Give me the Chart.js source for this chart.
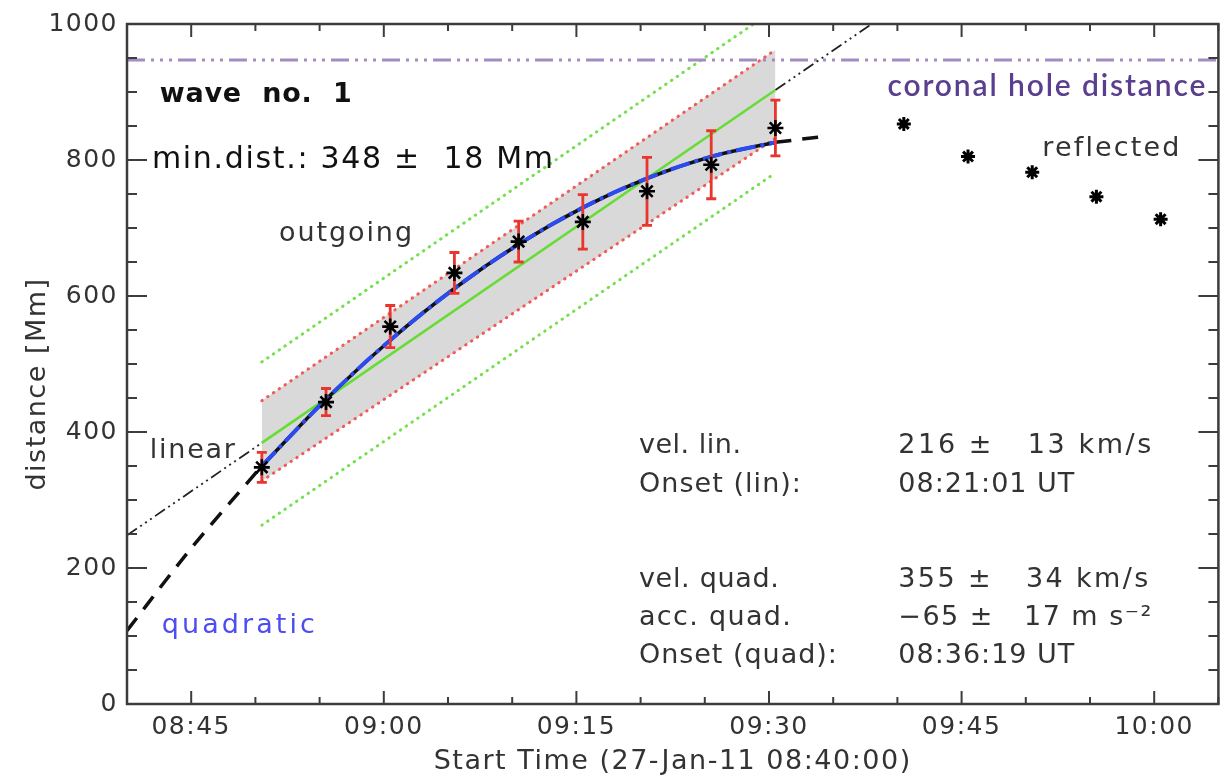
<!DOCTYPE html>
<html>
<head>
<meta charset="utf-8">
<script src="https://cdn.jsdelivr.net/npm/chart.js@4.4.1/dist/chart.umd.min.js"></script>
<style>
  html, body { margin: 0; padding: 0; background: #fff; }
  #chart { display: block; }
</style>
</head>
<body>
<canvas id="chart" width="1229" height="779"></canvas>
<script>
// time axis is in minutes after 08:40:00
const outTimes = [10.5, 15.5, 20.5, 25.5, 30.5, 35.5, 40.5, 45.5, 50.5];
const outDist = [348, 444, 555, 634, 680, 709, 754, 793, 847];
const outErr = [22, 20, 31, 30, 30, 40, 50, 50, 41];

const reflTimes = [60.5, 65.5, 70.5, 75.5, 80.5];
const reflDist = [853, 805, 782, 746, 713];

// linear fit and its extension
const linFitTimes = [10.5, 50.5];
const linFitDist = [384, 903];
const linExtLeftTimes = [0, 10.5];
const linExtLeftDist = [248, 384];
const linExtRightTimes = [50.5, 58];
const linExtRightDist = [903, 1000];

// confidence band (red dotted) and outer band (green dotted)
const bandTimes = [10.5, 50.5];
const bandUpper = [446, 962];
const bandLower = [328, 832];
const outerUpperTimes = [10.5, 48.8];
const outerUpper = [503, 1000];
const outerLowerTimes = [10.5, 50.5];
const outerLower = [263, 781];

// quadratic fit, sampled from the curve
const quadTimes = [0, 5, 10.5, 15.5, 20.5, 25.5, 30.5, 35.5, 40.5, 45.5, 50.5, 54];
const quadDist = [108, 229, 350, 448, 535, 611, 676, 730, 773, 805, 826, 834];

const coronalHole = 947;
const xTicks = { min: 0, max: 85, step: 5 };
const yTicks = { min: 0, max: 1000, step: 50 };

const ink = '#333333';
const axisColor = '#3c3c3c';
const FONT = 'DejaVu Sans';

function pts(ts, vs) {
    return ts.map((t, i) => ({ x: t, y: vs[i] }));
}

function clock(m) {
    const t = 8 * 60 + 40 + m;
    const h = Math.floor(t / 60);
    const mm = Math.round(t % 60);
    return String(h).padStart(2, '0') + ':' + String(mm).padStart(2, '0');
}

const quadLeft = pts(quadTimes, quadDist).filter(p => p.x <= outTimes[0]);
const quadMid = pts(quadTimes, quadDist).filter(p => p.x >= outTimes[0] && p.x <= outTimes[outTimes.length - 1]);
const quadRight = pts(quadTimes, quadDist).filter(p => p.x >= outTimes[outTimes.length - 1]);

// error bars as broken line segments with caps
const errData = [];
outTimes.forEach((t, i) => {
    errData.push({ x: t, y: outDist[i] - outErr[i] });
    errData.push({ x: t, y: outDist[i] + outErr[i] });
    errData.push({ x: t, y: null });
});

const line = (data, color, width, dash, extra) => Object.assign({
    data: data,
    borderColor: color,
    backgroundColor: color,
    borderWidth: width,
    borderDash: dash || [],
    pointRadius: 0,
    fill: false,
    tension: 0
}, extra || {});

// drawn top first
const datasets = [
    {
        data: pts(outTimes, outDist),
        showLine: false,
        pointStyle: 'star',
        pointRadius: 8,
        pointBorderWidth: 2.6,
        pointBorderColor: '#000',
        pointBackgroundColor: '#000'
    },
    {
        data: pts(reflTimes, reflDist),
        showLine: false,
        pointStyle: 'star',
        pointRadius: 7,
        pointBorderWidth: 3,
        pointBorderColor: '#000',
        pointBackgroundColor: '#000'
    },
    line(errData, '#e8352d', 2.8, [], {
        spanGaps: false,
        pointStyle: 'line',
        pointRadius: 5,
        pointBorderWidth: 2.8,
        pointBorderColor: '#e8352d'
    }),
    line(quadMid, '#2b4bef', 4, [20, 5, 4, 5], { cubicInterpolationMode: 'monotone' }),
    line(quadMid, '#111', 3.5, [], { cubicInterpolationMode: 'monotone' }),
    line(quadLeft, '#111', 3.5, [16, 11], { cubicInterpolationMode: 'monotone' }),
    line(quadRight, '#111', 3.5, [16, 11], { cubicInterpolationMode: 'monotone' }),
    line(pts(linFitTimes, linFitDist), '#66dd33', 2.5),
    line(pts(linExtLeftTimes, linExtLeftDist), '#222', 1.8, [12, 4, 2, 4, 2, 4, 2, 4]),
    line(pts(linExtRightTimes, linExtRightDist), '#222', 1.8, [12, 4, 2, 4, 2, 4, 2, 4]),
    line([{ x: xTicks.min, y: coronalHole }, { x: xTicks.max, y: coronalHole }], '#a48cc0', 3, [18, 6, 3, 6, 3, 6, 3, 6]),
    line(pts(outerUpperTimes, outerUpper), '#74e04e', 3, [0.5, 6.5], { borderCapStyle: 'round' }),
    line(pts(outerLowerTimes, outerLower), '#74e04e', 3, [0.5, 6.5], { borderCapStyle: 'round' }),
    line(pts(bandTimes, bandUpper), '#f25a55', 3, [0.5, 6.5], { borderCapStyle: 'round', fill: '+1', backgroundColor: '#d9d9d9' }),
    line(pts(bandTimes, bandLower), '#f25a55', 3, [0.5, 6.5], { borderCapStyle: 'round' })
];

// text inside the plot, placed in data coordinates; w = width to fit
const notes = [
    { text: 'wave  no.  1', t: 2.55, d: 885, size: 27, weight: 'bold', color: '#111', w: 192 },
    { text: 'min.dist.: 348 ±  18 Mm', t: 1.94, d: 788, size: 30, color: '#111', w: 401 },
    { text: 'outgoing', t: 11.84, d: 681, size: 27, color: ink, w: 133 },
    { text: 'coronal hole distance', t: 59.22, d: 894, size: 30, weight: '600', family: 'Lato', color: '#5a3f8e', w: 318 },
    { text: 'reflected', t: 71.29, d: 806, size: 27, color: ink, w: 137 },
    { text: 'linear', t: 1.78, d: 362, size: 27, color: ink, w: 85 },
    { text: 'quadratic', t: 2.71, d: 104, size: 27, color: '#4d4df2', w: 153 },
    { text: 'vel. lin.', t: 39.87, d: 369, size: 27, color: ink, w: 102 },
    { text: 'Onset (lin):', t: 39.87, d: 312, size: 27, color: ink, w: 162 },
    { text: 'vel. quad.', t: 39.87, d: 172, size: 27, color: ink, w: 140 },
    { text: 'acc. quad.', t: 39.87, d: 116, size: 27, color: ink, w: 152 },
    { text: 'Onset (quad):', t: 39.87, d: 60, size: 27, color: ink, w: 198 },
    { text: '216 ±   13 km/s', t: 60.07, d: 369, size: 27, color: ink, w: 253 },
    { text: '08:21:01 UT', t: 60.07, d: 312, size: 27, color: ink, w: 176 },
    { text: '355 ±   34 km/s', t: 60.07, d: 172, size: 27, color: ink, w: 250 },
    { text: '\u221265 ±   17 m s\u207B\u00B2', t: 60.07, d: 116, size: 27, color: ink, w: 253 },
    { text: '08:36:19 UT', t: 60.07, d: 60, size: 27, color: ink, w: 176 }
];

function fitText(ctx, text, x, y, w) {
    ctx.letterSpacing = '0px';
    const raw = ctx.measureText(text).width;
    let sp = (w - raw) / Math.max(1, text.length - 1);
    sp = Math.max(-2, Math.min(6, sp));
    ctx.letterSpacing = sp.toFixed(2) + 'px';
    ctx.fillText(text, x, y);
}

const spacingPlugin = {
    id: 'spacing',
    beforeDraw(chart) {
        chart.ctx.letterSpacing = '1.5px';
    }
};

const framePlugin = {
    id: 'frame',
    afterDatasetsDraw(chart) {
        const { ctx, chartArea: a, scales: { x, y } } = chart;
        ctx.save();
        ctx.letterSpacing = '0px';
        ctx.strokeStyle = axisColor;
        ctx.lineWidth = 2.5;
        ctx.strokeRect(a.left, a.top, a.right - a.left, a.bottom - a.top);
        ctx.lineWidth = 2;
        ctx.beginPath();
        x.ticks.forEach(t => {
            const px = x.getPixelForValue(t.value);
            const len = (t.value - 5) % 15 === 0 ? 13 : 7;
            ctx.moveTo(px, a.bottom); ctx.lineTo(px, a.bottom - len);
            ctx.moveTo(px, a.top); ctx.lineTo(px, a.top + len);
        });
        y.ticks.forEach(t => {
            const py = y.getPixelForValue(t.value);
            const len = t.value % 200 === 0 ? 20 : 10;
            ctx.moveTo(a.left, py); ctx.lineTo(a.left + len, py);
            ctx.moveTo(a.right, py); ctx.lineTo(a.right - len, py);
        });
        ctx.stroke();
        ctx.restore();
    }
};

const notesPlugin = {
    id: 'notes',
    afterDraw(chart) {
        const { ctx, chartArea: a, scales: { x, y } } = chart;
        ctx.save();
        ctx.textBaseline = 'alphabetic';
        ctx.textAlign = 'left';
        notes.forEach(n => {
            ctx.font = (n.weight || 'normal') + ' ' + n.size + 'px "' + (n.family || FONT) + '"';
            ctx.fillStyle = n.color;
            fitText(ctx, n.text, x.getPixelForValue(n.t), y.getPixelForValue(n.d), n.w);
        });
        // y axis title
        ctx.translate(a.left - 89, a.top + 360);
        ctx.rotate(-Math.PI / 2);
        ctx.textAlign = 'center';
        ctx.textBaseline = 'middle';
        ctx.font = '27px "' + FONT + '"';
        ctx.fillStyle = ink;
        ctx.letterSpacing = '1.5px';
        ctx.fillText('distance [Mm]', 0, 0);
        ctx.restore();
    }
};

Chart.defaults.font.family = FONT;

new Chart(document.getElementById('chart'), {
    type: 'line',
    data: { datasets: datasets },
    options: {
        responsive: false,
        animation: false,
        devicePixelRatio: 1,
        layout: { padding: { top: 24, right: 4, left: 0, bottom: 0 } },
        plugins: {
            legend: { display: false },
            tooltip: { enabled: false },
            filler: { drawTime: 'beforeDatasetsDraw' }
        },
        scales: {
            x: {
                type: 'linear',
                min: xTicks.min,
                max: xTicks.max,
                grid: { display: false, drawTicks: false },
                border: { display: false },
                ticks: {
                    stepSize: xTicks.step,
                    autoSkip: false,
                    maxRotation: 0,
                    padding: 8,
                    color: ink,
                    font: { size: 25 },
                    callback: v => ((v - 5) % 15 === 0 ? clock(v) : '')
                },
                title: {
                    display: true,
                    text: 'Start Time (27-Jan-11 08:40:00)',
                    color: ink,
                    font: { size: 27 },
                    padding: { top: 0, bottom: 1 }
                },
                afterFit: s => { s.height = 75; }
            },
            y: {
                type: 'linear',
                min: yTicks.min,
                max: yTicks.max,
                grid: { display: false, drawTicks: false },
                border: { display: false },
                ticks: {
                    stepSize: yTicks.step,
                    autoSkip: false,
                    padding: 9,
                    color: ink,
                    font: { size: 25 },
                    callback: v => (v % 200 === 0 ? v : '')
                },
                afterFit: s => { s.width = 127; }
            }
        }
    },
    plugins: [spacingPlugin, framePlugin, notesPlugin]
});
</script>
</body>
</html>
